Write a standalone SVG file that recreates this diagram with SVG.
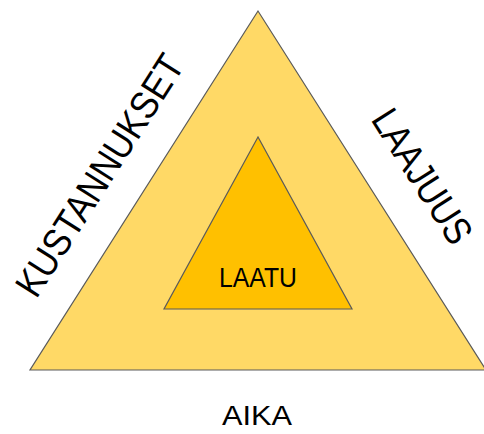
<svg xmlns="http://www.w3.org/2000/svg" width="484" height="434" viewBox="0 0 484 434">
  <style>
    .lbl { font-family: "Liberation Sans", Arial, sans-serif; fill: #000; text-anchor: middle; }
    .tri { stroke: #5a5a5a; stroke-width: 1.2; stroke-linejoin: miter; }
  </style>
  <rect width="484" height="434" fill="#ffffff"/>
  <g id="outer-triangle">
    <polygon class="tri" points="258,11 30,370 486,370" fill="#FFD966"/>
  </g>
  <g id="laatu">
    <polygon class="tri" points="258,137 164,309 352,309" fill="#FFC000" stroke-width="1"/>
    <text class="lbl" x="258" y="287" font-size="27" textLength="78" lengthAdjust="spacingAndGlyphs">LAATU</text>
  </g>
  <g id="kustannukset">
    <text class="lbl" x="111" y="182.5" font-size="39" textLength="278" lengthAdjust="spacingAndGlyphs" transform="rotate(-57.5 111 182.5)">KUSTANNUKSET</text>
  </g>
  <g id="laajuus">
    <text class="lbl" x="411" y="183.5" font-size="39" textLength="152" lengthAdjust="spacingAndGlyphs" transform="rotate(57.5 411 183.5)">LAAJUUS</text>
  </g>
  <g id="aika">
    <text class="lbl" x="257" y="425" font-size="28" textLength="70" lengthAdjust="spacingAndGlyphs">AIKA</text>
  </g>
</svg>
